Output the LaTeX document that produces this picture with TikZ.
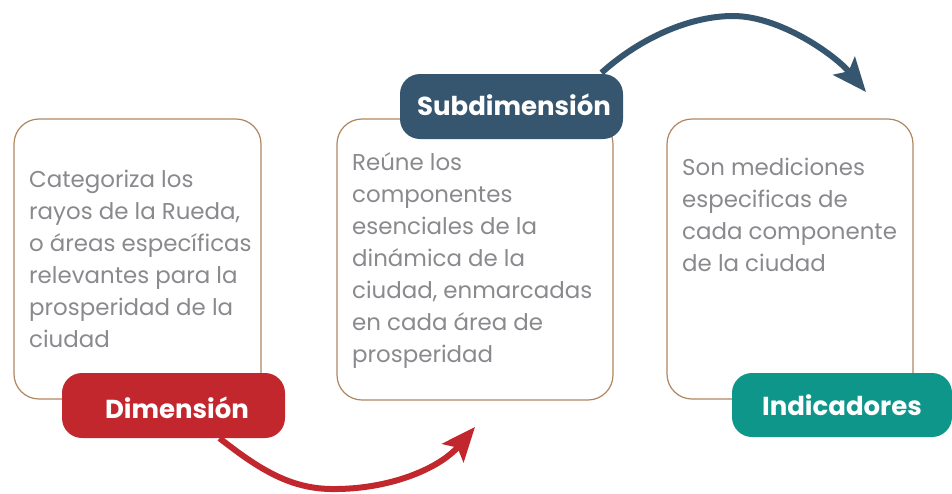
\documentclass[tikz,border=0pt]{standalone}
\usepackage{fontspec}
\setmainfont{Poppins}
\usetikzlibrary{arrows.meta}
\definecolor{dimred}{HTML}{C1272D}
\definecolor{subblue}{HTML}{35566E}
\definecolor{indteal}{HTML}{0F968B}
\definecolor{boxline}{HTML}{B08660}
\definecolor{bodygrey}{HTML}{8A8A8E}
\tikzset{
  infobox/.style={draw=boxline, line width=1.2pt, fill=white, rounded corners=25pt, inner sep=0pt},
  tagbox/.style={rounded corners=20pt, inner sep=0pt, minimum width=223pt, minimum height=65pt},
  tagtext/.style={text=white, font=\fontsize{26}{30}\selectfont\bfseries, inner sep=0pt},
  bodytext/.style={text=bodygrey, font=\fontsize{22.9}{32}\selectfont, align=left, inner sep=0pt, anchor=base west},
  flow/.style={line width=6pt, -{Stealth[length=34pt,width=28pt,inset=7pt]}}
}
\begin{document}
\begin{tikzpicture}[x=1pt,y=-1pt]
\useasboundingbox (0,0) rectangle (952,493);
\coordinate (r2) at (475,427);
\coordinate (s2) at (866,92);
% boxes
\node[infobox, minimum width=247pt, minimum height=280pt] (b1) at (137.5,259) {};
\node[infobox, minimum width=276pt, minimum height=281pt] (b2) at (475,259.5) {};
\node[infobox, minimum width=246pt, minimum height=280pt] (b3) at (790,259) {};
% body texts (anchored at the baseline of the last line)
\node[bodytext] (t1) at (29,347) {Categoriza los\\rayos de la Rueda,\\o áreas específicas\\relevantes para la\\prosperidad de la\\ciudad};
\node[bodytext] (t2) at (352,362) {Reúne los\\componentes\\esenciales de la\\dinámica de la\\ciudad, enmarcadas\\en cada área de\\prosperidad};
\node[bodytext] (t3) at (682,271) {Son mediciones\\especificas de\\cada componente\\de la ciudad};
% tags
\node[tagbox, fill=dimred] (l1) at (173.5,405.5) {};
\node[tagbox, fill=subblue] (l2) at (511.5,106.5) {};
\node[tagbox, fill=indteal, minimum width=220pt, minimum height=64pt] (l3) at (842,405) {};
\node[tagtext] (n1) at (177,408) {Dimensión};
\node[tagtext] (n2) at (514,105) {Subdimensión};
\node[tagtext] (n3) at (842,405) {Indicadores};
% arrows
\coordinate (r1) at ([xshift=46pt]l1.south);
\coordinate (s1) at ([xshift=90pt,yshift=1pt]l2.north);
\draw[flow, draw=dimred] (r1) .. controls (260,470) and (290,488) .. (330,489) .. controls (390,490) and (440,468) .. (r2);
\draw[flow, draw=subblue] (s1) .. controls (640,38) and (690,16) .. (733,16) .. controls (780,16) and (835,55) .. (s2);
\end{tikzpicture}
\end{document}
